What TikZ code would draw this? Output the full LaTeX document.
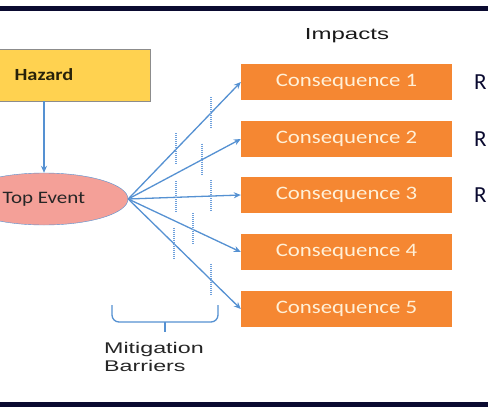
\documentclass[tikz,border=0pt]{standalone}
\usepackage{fontspec}
\setmainfont{Carlito}
\newfontfamily\boxfont[FakeStretch=1.2]{Carlito}
\newfontfamily\labelfont[FakeStretch=1.5]{Liberation Sans}
\usetikzlibrary{arrows.meta,shapes.geometric}
\definecolor{framenavy}{RGB}{10,10,48}
\definecolor{hazardyellow}{RGB}{255,210,80}
\definecolor{hazardtext}{RGB}{40,34,10}
\definecolor{toppink}{RGB}{244,160,152}
\definecolor{conseqorange}{RGB}{245,135,50}
\definecolor{conseqtext}{RGB}{255,240,215}
\definecolor{linkblue}{RGB}{85,145,210}
\definecolor{barrierblue}{RGB}{110,160,220}
\begin{document}
\begin{tikzpicture}[
  x=1pt, y=-1pt,
  every node/.style={inner sep=0pt},
  conseq/.style={fill=conseqorange, minimum width=211pt, minimum height=36pt,
    text=conseqtext, font=\boxfont\fontsize{19}{22}\selectfont},
  link/.style={draw=linkblue, line width=1.3pt, -{Stealth[length=7pt,width=6pt]}},
  barrier/.style={draw=barrierblue, line width=1.8pt, dash pattern=on 1pt off 1pt},
  bracket/.style={draw=linkblue, line width=1.3pt, rounded corners=7pt}
]
  \clip (0,0) rectangle (488,407);
  \fill[white] (0,0) rectangle (488,407);
  \fill[framenavy] (0,6) rectangle (488,11);
  \fill[framenavy] (0,402) rectangle (488,407);

  \node[draw=black!45, fill=hazardyellow, minimum width=212pt, minimum height=52pt,
    text=hazardtext, font=\boxfont\bfseries\fontsize{17}{20}\selectfont]
    (hazard) at (44,75) {Hazard};
  \node[ellipse, draw=linkblue, fill=toppink, minimum width=168pt, minimum height=52pt,
    text=black!85, font=\boxfont\fontsize{17.5}{20}\selectfont]
    (top) at (44,199) {Top Event};
  \foreach \i/\y in {1/82,2/139,3/195,4/252,5/309}
    \node[conseq] (c\i) at (346.5,\y) {Consequence \i};
  \node[text=black!90, font=\labelfont\fontsize{16}{19}\selectfont] (impacts) at (347,36) {Impacts};
  \foreach \i/\y in {1/82,2/139,3/195}
    \node[anchor=west, text=framenavy, font=\fontsize{23}{27}\selectfont] (r\i) at (474,\y) {R};

  \draw[link] (hazard) -- (top);
  \foreach \i in {1,...,5}
    \draw[link] (top.east) -- (c\i.west);
  \foreach \i/\p in {1/.425,1/.735,2/.655,3/.425,3/.735,4/.575,5/.407,5/.735}{
    \path (top.east) -- (c\i.west) coordinate[pos=\p] (m);
    \draw[barrier] ([yshift=16pt]m) -- ([yshift=-16pt]m);
  }

  \draw[bracket] (112,305) -- (112,322) -- (218,322) -- (218,305);
  \draw[bracket] (165,322) -- (165,332);
  \node[anchor=north west, align=left, text=black!85,
    font=\labelfont\fontsize{15.5}{18}\selectfont] (mitigation) at (104,342) {Mitigation\\Barriers};
\end{tikzpicture}
\end{document}
